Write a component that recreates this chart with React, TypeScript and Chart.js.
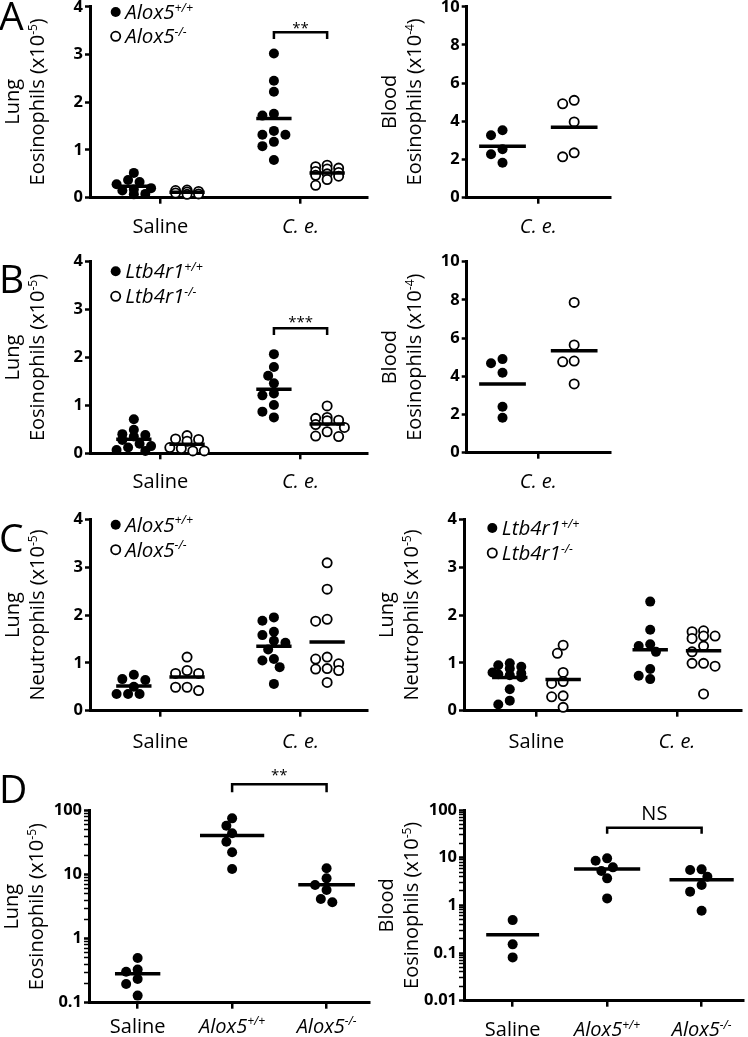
import React, { useEffect, useRef } from "react";
import { Chart, registerables } from "chart.js";

Chart.register(...registerables);

const FONT = "'Open Sans', 'Noto Sans', 'DejaVu Sans', sans-serif";

// ---------------- Data ----------------
// Panel A: lung eosinophils (x10^-5), Alox5
const A_LUNG_SALINE_WT = [0.52, 0.37, 0.33, 0.28, 0.2, 0.17, 0.15, 0.08, 0.07];
const A_LUNG_SALINE_KO = [0.16, 0.15, 0.13, 0.12, 0.1, 0.08, 0.07];
const A_LUNG_CE_WT = [3.02, 2.45, 2.22, 1.76, 1.72, 1.4, 1.32, 1.32, 1.17, 1.08, 0.79];
const A_LUNG_CE_KO = [0.68, 0.65, 0.62, 0.6, 0.55, 0.53, 0.5, 0.47, 0.45, 0.38, 0.26];
// Panel A: blood eosinophils (x10^-4)
const A_BLOOD_CE_WT = [3.53, 3.27, 2.54, 2.28, 1.83];
const A_BLOOD_CE_KO = [5.1, 4.92, 3.97, 2.35, 2.14];
// Panel B: lung eosinophils (x10^-5), Ltb4r1
const B_LUNG_SALINE_WT = [0.71, 0.49, 0.4, 0.38, 0.35, 0.28, 0.2, 0.15, 0.12, 0.07, 0.05];
const B_LUNG_SALINE_KO = [0.37, 0.3, 0.29, 0.25, 0.12, 0.1, 0.05, 0.05];
const B_LUNG_CE_WT = [2.07, 1.8, 1.62, 1.46, 1.25, 1.21, 1.01, 0.87, 0.75];
const B_LUNG_CE_KO = [0.99, 0.75, 0.73, 0.69, 0.68, 0.6, 0.54, 0.45, 0.36, 0.35];
// Panel B: blood eosinophils (x10^-4)
const B_BLOOD_CE_WT = [4.9, 4.68, 4.19, 2.41, 1.83];
const B_BLOOD_CE_KO = [7.87, 5.64, 4.8, 4.76, 3.6];
// Panel C: lung neutrophils (x10^-5)
const C_ALOX_SALINE_WT = [0.75, 0.66, 0.64, 0.5, 0.35, 0.35, 0.35];
const C_ALOX_SALINE_KO = [1.12, 0.84, 0.78, 0.78, 0.49, 0.49, 0.42];
const C_ALOX_CE_WT = [1.95, 1.88, 1.65, 1.58, 1.46, 1.42, 1.28, 1.08, 1.05, 0.91, 0.56];
const C_ALOX_CE_KO = [3.09, 2.54, 1.91, 1.87, 1.12, 1.08, 0.98, 0.88, 0.87, 0.84, 0.59];
const C_LTB_SALINE_WT = [0.99, 0.95, 0.92, 0.88, 0.8, 0.78, 0.76, 0.74, 0.7, 0.45, 0.21, 0.13];
const C_LTB_SALINE_KO = [1.37, 1.2, 0.8, 0.61, 0.57, 0.31, 0.29, 0.07];
const C_LTB_CE_WT = [2.28, 1.69, 1.39, 1.35, 1.23, 0.87, 0.73, 0.66];
const C_LTB_CE_KO = [1.67, 1.65, 1.56, 1.56, 1.51, 1.35, 1.23, 0.99, 0.99, 0.93, 0.35];
// Panel D: lung and blood eosinophils (x10^-5), log scale
const D_LUNG_SALINE = [0.5, 0.33, 0.305, 0.234, 0.196, 0.129];
const D_LUNG_WT = [75.9, 58.3, 44.3, 32.8, 22.4, 12.3];
const D_LUNG_KO = [12.6, 8.77, 6.9, 5.75, 4.17, 3.7];
const D_BLOOD_SALINE = [0.49, 0.152, 0.081];
const D_BLOOD_WT = [9.68, 8.65, 6.27, 5.25, 3.68, 1.4];
const D_BLOOD_KO = [5.69, 5.51, 3.99, 2.67, 1.94, 0.77];

// Tick labels
const LUNG_TICKS = [0, 1, 2, 3, 4];
const BLOOD_TICKS = [0, 2, 4, 6, 8, 10];
const D_LUNG_TICKS = [0.1, 1, 10, 100];
const D_BLOOD_TICKS = [0.01, 0.1, 1, 10, 100];

// Text
const SALINE = "Saline";
const CE = "C. e.";
const ALOX5 = "Alox5";
const LTB4R1 = "Ltb4r1";
const WT = "+/+";
const KO = "-/-";

// ---------------- Helpers ----------------
type Seg = { t: string; it?: boolean; sup?: boolean };
const plain = (t: string): Seg[] => [{ t }];
const ital = (t: string): Seg[] => [{ t, it: true }];
const gene = (n: string, s: string): Seg[] => [{ t: n, it: true }, { t: s, it: true, sup: true }];
const unitTitle = (pre: string, exp: string): Seg[] => [{ t: pre + " (x10" }, { t: exp, sup: true }, { t: ")" }];
const mean = (a: number[]) => a.reduce((s, v) => s + v, 0) / a.length;

interface Group { cat: number; off: number; values: number[]; filled: boolean; hw: number }
interface Panel {
  box: { x: number; y: number; w: number; h: number };
  plot: { L: number; T: number; R: number; B: number };
  yType: "linear" | "logarithmic";
  yTicks: number[];
  xMin: number; xMax: number;
  cats: Seg[][];
  catBaseline: number;
  groups: Group[];
  titles: Seg[][];
  legend?: { x: number; baselines: number[]; labels: Seg[][] };
  bracket?: { g1: number; g2: number; y: number; drop: number; label: string; labelY: number; size: number };
  letter?: { t: string; baseline: number };
}

const TXT = 20;
const LEG_TXT = 20.5;

function fontFor(s: Seg, size: number) {
  const sz = s.sup ? size * 0.6 : size;
  return `${s.it ? "italic " : ""}400 ${sz}px ${FONT}`;
}
function richWidth(ctx: CanvasRenderingContext2D, segs: Seg[], size: number) {
  let w = 0;
  for (const s of segs) { ctx.font = fontFor(s, size); w += ctx.measureText(s.t).width; }
  return w;
}
function drawRich(ctx: CanvasRenderingContext2D, segs: Seg[], x: number, y: number, size: number, align: string) {
  const w = richWidth(ctx, segs, size);
  let cx = align === "center" ? x - w / 2 : align === "right" ? x - w : x;
  ctx.textAlign = "left";
  ctx.textBaseline = "alphabetic";
  for (const s of segs) {
    ctx.font = fontFor(s, size);
    ctx.fillText(s.t, cx, s.sup ? y - size * 0.36 : y);
    cx += ctx.measureText(s.t).width;
  }
}

const LEFT_X = { min: -0.503, max: 1.476 };

const PANELS: Panel[] = [
  {
    box: { x: 0, y: 0, w: 374, h: 245 },
    plot: { L: 90, T: 6, R: 373, B: 197.7 },
    yType: "linear", yTicks: LUNG_TICKS,
    xMin: LEFT_X.min, xMax: LEFT_X.max,
    cats: [plain(SALINE), ital(CE)], catBaseline: 233.3,
    groups: [
      { cat: 0, off: -0.19, values: A_LUNG_SALINE_WT, filled: true, hw: 0.126 },
      { cat: 0, off: 0.19, values: A_LUNG_SALINE_KO, filled: false, hw: 0.126 },
      { cat: 1, off: -0.19, values: A_LUNG_CE_WT, filled: true, hw: 0.126 },
      { cat: 1, off: 0.19, values: A_LUNG_CE_KO, filled: false, hw: 0.126 },
    ],
    titles: [plain("Lung"), unitTitle("Eosinophils", "-5")],
    legend: { x: 115.7, baselines: [19, 43.3], labels: [gene(ALOX5, WT), gene(ALOX5, KO)] },
    bracket: { g1: 2, g2: 3, y: 32.3, drop: 6.7, label: "**", labelY: 25, size: 15 },
    letter: { t: "A", baseline: 30 },
  },
  {
    box: { x: 374, y: 0, w: 374, h: 245 },
    plot: { L: 466.7, T: 6, R: 610, B: 197.7 },
    yType: "linear", yTicks: BLOOD_TICKS,
    xMin: -0.5, xMax: 0.5,
    cats: [ital(CE)], catBaseline: 233.3,
    groups: [
      { cat: 0, off: -0.25, values: A_BLOOD_CE_WT, filled: true, hw: 0.163 },
      { cat: 0, off: 0.25, values: A_BLOOD_CE_KO, filled: false, hw: 0.163 },
    ],
    titles: [plain("Blood"), unitTitle("Eosinophils", "-4")],
  },
  {
    box: { x: 0, y: 245, w: 374, h: 250 },
    plot: { L: 90, T: 261.7, R: 373, B: 453.3 },
    yType: "linear", yTicks: LUNG_TICKS,
    xMin: LEFT_X.min, xMax: LEFT_X.max,
    cats: [plain(SALINE), ital(CE)], catBaseline: 488.3,
    groups: [
      { cat: 0, off: -0.19, values: B_LUNG_SALINE_WT, filled: true, hw: 0.126 },
      { cat: 0, off: 0.19, values: B_LUNG_SALINE_KO, filled: false, hw: 0.126 },
      { cat: 1, off: -0.19, values: B_LUNG_CE_WT, filled: true, hw: 0.126 },
      { cat: 1, off: 0.19, values: B_LUNG_CE_KO, filled: false, hw: 0.126 },
    ],
    titles: [plain("Lung"), unitTitle("Eosinophils", "-5")],
    legend: { x: 115.7, baselines: [278.3, 303.3], labels: [gene(LTB4R1, WT), gene(LTB4R1, KO)] },
    bracket: { g1: 2, g2: 3, y: 328.3, drop: 6.7, label: "***", labelY: 319, size: 15 },
    letter: { t: "B", baseline: 293.3 },
  },
  {
    box: { x: 374, y: 245, w: 374, h: 250 },
    plot: { L: 466.7, T: 261.7, R: 610, B: 452.7 },
    yType: "linear", yTicks: BLOOD_TICKS,
    xMin: -0.5, xMax: 0.5,
    cats: [ital(CE)], catBaseline: 488.3,
    groups: [
      { cat: 0, off: -0.25, values: B_BLOOD_CE_WT, filled: true, hw: 0.163 },
      { cat: 0, off: 0.25, values: B_BLOOD_CE_KO, filled: false, hw: 0.163 },
    ],
    titles: [plain("Blood"), unitTitle("Eosinophils", "-4")],
  },
  {
    box: { x: 0, y: 495, w: 374, h: 260 },
    plot: { L: 90, T: 519.3, R: 373, B: 710.7 },
    yType: "linear", yTicks: LUNG_TICKS,
    xMin: LEFT_X.min, xMax: LEFT_X.max,
    cats: [plain(SALINE), ital(CE)], catBaseline: 748.3,
    groups: [
      { cat: 0, off: -0.19, values: C_ALOX_SALINE_WT, filled: true, hw: 0.126 },
      { cat: 0, off: 0.19, values: C_ALOX_SALINE_KO, filled: false, hw: 0.126 },
      { cat: 1, off: -0.19, values: C_ALOX_CE_WT, filled: true, hw: 0.126 },
      { cat: 1, off: 0.19, values: C_ALOX_CE_KO, filled: false, hw: 0.126 },
    ],
    titles: [plain("Lung"), unitTitle("Neutrophils", "-5")],
    legend: { x: 115.7, baselines: [531.7, 556.7], labels: [gene(ALOX5, WT), gene(ALOX5, KO)] },
    letter: { t: "C", baseline: 551.7 },
  },
  {
    box: { x: 374, y: 495, w: 374, h: 260 },
    plot: { L: 464, T: 519.3, R: 747, B: 710.7 },
    yType: "linear", yTicks: LUNG_TICKS,
    xMin: -0.516, xMax: 1.458,
    cats: [plain(SALINE), ital(CE)], catBaseline: 748.3,
    groups: [
      { cat: 0, off: -0.19, values: C_LTB_SALINE_WT, filled: true, hw: 0.126 },
      { cat: 0, off: 0.19, values: C_LTB_SALINE_KO, filled: false, hw: 0.126 },
      { cat: 1, off: -0.19, values: C_LTB_CE_WT, filled: true, hw: 0.126 },
      { cat: 1, off: 0.19, values: C_LTB_CE_KO, filled: false, hw: 0.126 },
    ],
    titles: [plain("Lung"), unitTitle("Neutrophils", "-5")],
    legend: { x: 492.3, baselines: [535, 560], labels: [gene(LTB4R1, WT), gene(LTB4R1, KO)] },
  },
  {
    box: { x: 0, y: 755, w: 374, h: 282 },
    plot: { L: 89, T: 810.7, R: 373, B: 1002.7 },
    yType: "logarithmic", yTicks: D_LUNG_TICKS,
    xMin: -0.515, xMax: 2.449,
    cats: [plain(SALINE), gene(ALOX5, WT), gene(ALOX5, KO)], catBaseline: 1032.5,
    groups: [
      { cat: 0, off: 0, values: D_LUNG_SALINE, filled: true, hw: 0.24 },
      { cat: 1, off: 0, values: D_LUNG_WT, filled: true, hw: 0.34 },
      { cat: 2, off: 0, values: D_LUNG_KO, filled: true, hw: 0.3 },
    ],
    titles: [plain("Lung"), unitTitle("Eosinophils", "-5")],
    bracket: { g1: 1, g2: 2, y: 784.3, drop: 8, label: "**", labelY: 772, size: 15 },
    letter: { t: "D", baseline: 803.3 },
  },
  {
    box: { x: 374, y: 755, w: 374, h: 282 },
    plot: { L: 464, T: 810, R: 747, B: 1000.7 },
    yType: "logarithmic", yTicks: D_BLOOD_TICKS,
    xMin: -0.515, xMax: 2.438,
    cats: [plain(SALINE), gene(ALOX5, WT), gene(ALOX5, KO)], catBaseline: 1036,
    groups: [
      { cat: 0, off: 0, values: D_BLOOD_SALINE, filled: true, hw: 0.28 },
      { cat: 1, off: 0, values: D_BLOOD_WT, filled: true, hw: 0.35 },
      { cat: 2, off: 0, values: D_BLOOD_KO, filled: true, hw: 0.34 },
    ],
    titles: [plain("Blood"), unitTitle("Eosinophils", "-5")],
    bracket: { g1: 1, g2: 2, y: 827.7, drop: 6, label: "NS", labelY: 813.3, size: 20 },
  },
];

function yTickList(p: Panel) {
  if (p.yType === "linear") return p.yTicks.map((v) => ({ value: v, major: true }));
  const out: { value: number; major: boolean }[] = [];
  const lo = Math.round(Math.log10(p.yTicks[0]));
  const hi = Math.round(Math.log10(p.yTicks[p.yTicks.length - 1]));
  for (let d = lo; d <= hi; d++) {
    for (let m = 1; m <= 9; m++) {
      if (d === hi && m > 1) break;
      out.push({ value: Number((m * Math.pow(10, d)).toPrecision(3)), major: m === 1 });
    }
  }
  return out;
}

function buildConfig(p: Panel): any {
  const { box, plot } = p;
  const padTop = plot.T - box.y;
  const padRight = box.x + box.w - plot.R;
  const yWidth = plot.L - box.x;
  const xHeight = box.y + box.h - plot.B;
  const datasets: any[] = [];
  p.groups.forEach((g) => {
    const cx = g.cat + g.off;
    datasets.push({
      type: "scatter",
      data: g.values.map((v) => ({ x: cx, y: v })),
      pointRadius: g.filled ? 5 : 4.6,
      pointHoverRadius: 5,
      pointBackgroundColor: g.filled ? "#000" : "#fff",
      pointBorderColor: "#000",
      pointBorderWidth: g.filled ? 0 : 1.8,
      showLine: false,
      clip: false,
      order: 1,
    });
  });
  p.groups.forEach((g) => {
    const cx = g.cat + g.off;
    const m = mean(g.values);
    datasets.push({
      type: "line",
      data: [{ x: cx - g.hw, y: m }, { x: cx + g.hw, y: m }],
      borderColor: "#000",
      borderWidth: 3.5,
      borderCapStyle: "butt",
      pointRadius: 0,
      clip: false,
      order: 0,
    });
  });
  const yMin = p.yTicks[0];
  const yMax = p.yTicks[p.yTicks.length - 1];

  const overlay = {
    id: "overlay" + box.x + "_" + box.y,
    afterDraw(chart: any) {
      const ctx: CanvasRenderingContext2D = chart.ctx;
      const ox = box.x, oy = box.y;
      const xs = chart.scales.x;
      ctx.save();
      ctx.fillStyle = "#000";
      ctx.strokeStyle = "#000";
      // y titles (two lines, rotated)
      const cy = (plot.T + plot.B) / 2 - oy;
      const offs = [71, 46];
      p.titles.forEach((segs, i) => {
        ctx.save();
        ctx.translate(plot.L - ox - offs[i], cy);
        ctx.rotate(-Math.PI / 2);
        drawRich(ctx, segs, 0, 0, TXT, "center");
        ctx.restore();
      });
      // category labels
      p.cats.forEach((segs, i) => {
        drawRich(ctx, segs, xs.getPixelForValue(i), p.catBaseline - oy, TXT, "center");
      });
      // legend
      if (p.legend) {
        const lg = p.legend;
        lg.labels.forEach((segs, i) => {
          const by = lg.baselines[i] - oy;
          const filled = i === 0;
          ctx.beginPath();
          ctx.arc(lg.x - ox, by - 7, filled ? 5 : 4.6, 0, Math.PI * 2);
          if (filled) { ctx.fillStyle = "#000"; ctx.fill(); }
          else { ctx.fillStyle = "#fff"; ctx.fill(); ctx.lineWidth = 1.8; ctx.stroke(); }
          ctx.fillStyle = "#000";
          drawRich(ctx, segs, lg.x - ox + 9.5, by, LEG_TXT, "left");
        });
      }
      // significance bracket
      if (p.bracket) {
        const b = p.bracket;
        const g1 = p.groups[b.g1], g2 = p.groups[b.g2];
        const x1 = xs.getPixelForValue(g1.cat + g1.off);
        const x2 = xs.getPixelForValue(g2.cat + g2.off);
        const y = b.y - oy;
        ctx.lineWidth = 2.5;
        ctx.lineCap = "butt";
        ctx.beginPath();
        ctx.moveTo(x1, y + b.drop);
        ctx.lineTo(x1, y);
        ctx.lineTo(x2, y);
        ctx.lineTo(x2, y + b.drop);
        ctx.stroke();
        ctx.font = `400 ${b.size}px ${FONT}`;
        ctx.textAlign = "center";
        ctx.textBaseline = "alphabetic";
        const m = ctx.measureText(b.label);
        const asc = m.actualBoundingBoxAscent, desc = m.actualBoundingBoxDescent;
        ctx.fillText(b.label, (x1 + x2) / 2, b.labelY - oy + (asc - desc) / 2);
      }
      // panel letter
      if (p.letter) {
        ctx.font = `400 39px ${FONT}`;
        ctx.textAlign = "left";
        ctx.textBaseline = "alphabetic";
        ctx.fillText(p.letter.t, -1, p.letter.baseline - oy);
      }
      ctx.restore();
    },
  };

  return {
    type: "scatter",
    data: { datasets },
    plugins: [overlay],
    options: {
      responsive: false,
      maintainAspectRatio: false,
      animation: false,
      devicePixelRatio: 1,
      events: [],
      layout: { padding: { left: 0, top: padTop, right: padRight, bottom: 0 } },
      plugins: { legend: { display: false }, tooltip: { enabled: false }, title: { display: false } },
      scales: {
        x: {
          type: "linear",
          min: p.xMin,
          max: p.xMax,
          afterBuildTicks: (s: any) => { s.ticks = p.cats.map((_, i) => ({ value: i })); },
          afterFit: (s: any) => { s.height = xHeight; s.paddingLeft = 0; s.paddingRight = 0; },
          ticks: { callback: () => "", autoSkip: false, maxRotation: 0, padding: 0 },
          grid: { drawOnChartArea: false, drawTicks: true, tickLength: 6, color: "#000", lineWidth: 2.5 },
          border: { display: true, color: "#000", width: 3 },
        },
        y: {
          type: p.yType,
          position: "left",
          min: yMin,
          max: yMax,
          afterBuildTicks: (s: any) => { s.ticks = yTickList(p); },
          afterFit: (s: any) => { s.width = yWidth; s.paddingTop = 0; s.paddingBottom = 0; },
          ticks: {
            autoSkip: false,
            padding: 2,
            color: "#000",
            font: { family: FONT, size: 16.5, weight: "bold" },
            callback: (v: any, i: number, ticks: any[]) => {
              const t = ticks[i];
              if (t && t.major === false) return "";
              const hit = p.yTicks.find((k) => Math.abs(k - v) <= Math.abs(k) * 1e-6 + 1e-12);
              return hit === undefined ? "" : String(hit);
            },
          },
          grid: {
            drawOnChartArea: false,
            drawTicks: true,
            tickLength: 5,
            color: "#000",
            tickColor: "#000",
            tickWidth: (c: any) => (c.tick && c.tick.major === false ? 1.5 : 2.5),
          },
          border: { display: true, color: "#000", width: 3 },
        },
      },
    },
  };
}

const STEP = 11.5;
const MIN_D = 9;
const CANDS = [0, -0.5, 0.5, -1, 1, -1.5, 1.5];

function applySwarm(chart: any, p: Panel) {
  const xs = chart.scales.x, ys = chart.scales.y;
  p.groups.forEach((g, gi) => {
    const cx = xs.getPixelForValue(g.cat + g.off);
    const idx = g.values.map((_, i) => i).sort((a, b) => g.values[b] - g.values[a]);
    const placed: { x: number; y: number }[] = [];
    const outX: number[] = g.values.map(() => g.cat + g.off);
    for (const i of idx) {
      const py = ys.getPixelForValue(g.values[i]);
      let chosen: number | null = null;
      let fb = cx, fbD = -1;
      for (const k of CANDS) {
        const px = cx + k * STEP;
        let md = Infinity;
        for (const q of placed) md = Math.min(md, Math.hypot(q.x - px, q.y - py));
        if (md >= MIN_D) { chosen = px; break; }
        if (Number.isInteger(k) && Math.abs(k) <= 1 && md > fbD) { fbD = md; fb = px; }
      }
      const px = chosen === null ? fb : chosen;
      placed.push({ x: px, y: py });
      outX[i] = xs.getValueForPixel(px);
    }
    chart.data.datasets[gi].data = g.values.map((v, i) => ({ x: outX[i], y: v }));
  });
  chart.update();
}

function PanelChart({ p }: { p: Panel }) {
  const ref = useRef<HTMLCanvasElement>(null);
  useEffect(() => {
    if (!ref.current) return;
    const chart = new Chart(ref.current, buildConfig(p));
    applySwarm(chart, p);
    return () => chart.destroy();
  }, [p]);
  return (
    <canvas
      ref={ref}
      width={p.box.w}
      height={p.box.h}
      style={{ position: "absolute", left: p.box.x, top: p.box.y, width: p.box.w, height: p.box.h }}
    />
  );
}

export default function App() {
  return (
    <div style={{ position: "absolute", left: 0, top: 0, width: 748, height: 1037, background: "#fff", overflow: "hidden" }}>
      {PANELS.map((p, i) => (
        <PanelChart key={i} p={p} />
      ))}
    </div>
  );
}
